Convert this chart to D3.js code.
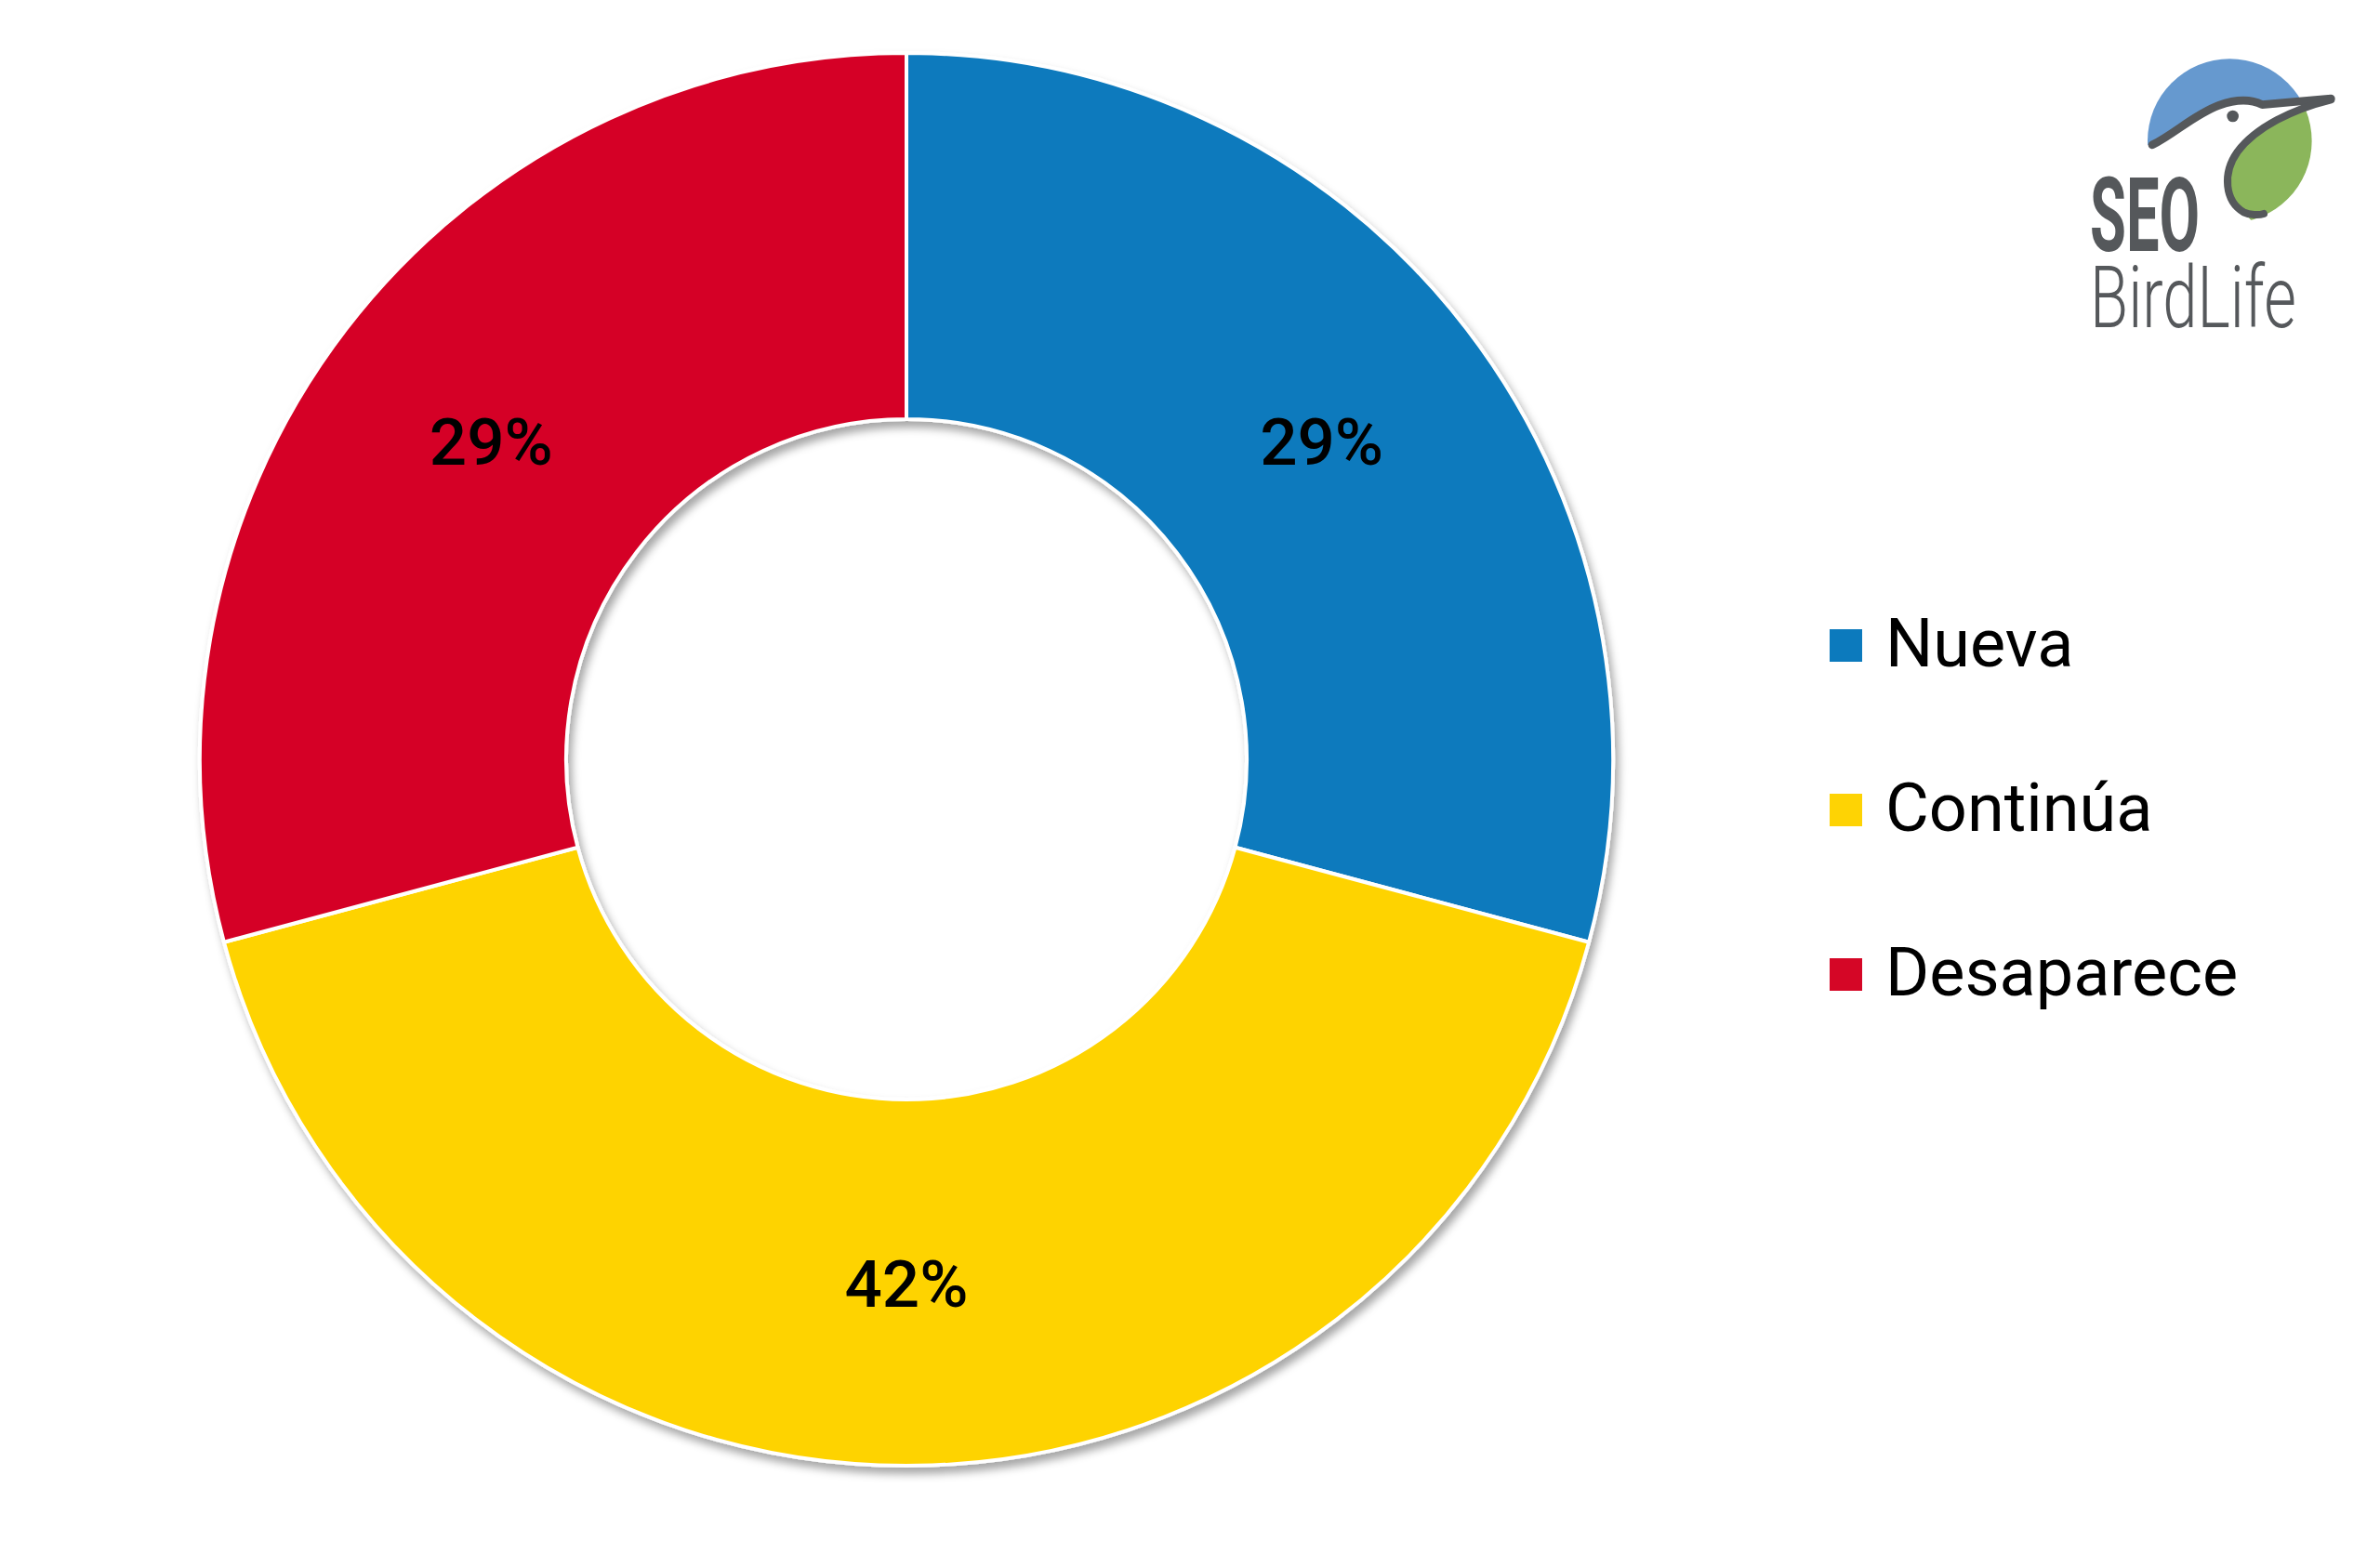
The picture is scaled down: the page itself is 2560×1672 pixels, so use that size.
<!DOCTYPE html>
<html>
<head>
<meta charset="utf-8">
<style>
  body { margin: 0; background: #fff; }
  svg { display: block; }
  .label { font-family: Roboto, "Liberation Sans", sans-serif; font-size: 71px; font-weight: 500; fill: #000; }
  .legend text { font-family: Roboto, "Liberation Sans", sans-serif; font-size: 72px; fill: #000; }
</style>
</head>
<body>
<div id="chart"></div>
<script src="https://d3js.org/d3.v7.min.js"></script>
<script>
  // datos
  const categories = ["Nueva", "Continúa", "Desaparece"];
  const values = [7, 10, 7];
  const colors = ["#0c7abd", "#fed304", "#d50626"];

  const width = 2560, height = 1672;
  const cx = 975, cy = 817,
        outerR = 760, innerR = 366;

  const svg = d3.select("#chart")
    .append("svg")
    .attr("width", width)
    .attr("height", height);

  // sombra
  const defs = svg.append("defs");
  defs.append("filter")
    .attr("id", "shadow")
    .attr("x", "-10%").attr("y", "-10%")
    .attr("width", "120%").attr("height", "120%")
    .append("feDropShadow")
    .attr("dx", 4).attr("dy", 7)
    .attr("stdDeviation", 5)
    .attr("flood-color", "#000")
    .attr("flood-opacity", 0.35);

  const data = categories.map((c, i) => ({ name: c, value: values[i], color: colors[i] }));
  const total = d3.sum(values);

  const pie = d3.pie()
    .sort(null)
    .value(d => d.value);

  const arc = d3.arc()
    .innerRadius(innerR)
    .outerRadius(outerR);

  const labelArc = d3.arc()
    .innerRadius((innerR + outerR) / 2)
    .outerRadius((innerR + outerR) / 2);

  const ring = svg.append("g")
    .attr("transform", `translate(${cx}, ${cy})`);

  ring.append("g")
    .attr("filter", "url(#shadow)")
    .selectAll("path")
    .data(pie(data))
    .join("path")
    .attr("d", arc)
    .attr("fill", d => d.data.color)
    .attr("stroke", "#fff")
    .attr("stroke-width", 4)
    .attr("stroke-linejoin", "round");

  ring.selectAll("text.label")
    .data(pie(data))
    .join("text")
    .attr("class", "label")
    .attr("transform", d => `translate(${labelArc.centroid(d)})`)
    .attr("text-anchor", "middle")
    .attr("dy", "0.36em")
    .text(d => Math.round(d.data.value / total * 100) + "%");

  // leyenda
  const legend = svg.append("g")
    .attr("class", "legend")
    .attr("transform", "translate(1968, 677)");

  const item = legend.selectAll("g")
    .data(data)
    .join("g")
    .attr("transform", (d, i) => `translate(0, ${i * 177})`);

  item.append("rect")
    .attr("width", 35)
    .attr("height", 35)
    .attr("fill", d => d.color);

  item.append("text")
    .attr("x", 60)
    .attr("y", 40)
    .text(d => d.name);

  // logo SEO BirdLife
  const logo = svg.append("g");
  const mark = logo.append("g")
    .attr("transform", "translate(2200, 30) scale(0.3333)");

  defs.append("clipPath")
    .attr("id", "logoCircle")
    .append("circle")
    .attr("cx", 595).attr("cy", 365).attr("r", 265);

  const inside = mark.append("g").attr("clip-path", "url(#logoCircle)");
  inside.append("path")
    .attr("d", "M300,378 L345,378 C420,340 480,280 560,250 C610,232 660,228 700,248 L920,228 L920,50 L300,50 Z")
    .attr("fill", "#6699cf");
  inside.append("path")
    .attr("d", "M925,235 C800,265 680,320 620,400 C570,470 580,560 640,595 L700,660 L900,660 L900,235 Z")
    .attr("fill", "#8bb65b");

  mark.append("path")
    .attr("d", "M345,378 C420,340 480,280 560,250 C610,232 660,228 700,248 L922,228")
    .attr("fill", "none")
    .attr("stroke", "#55585b")
    .attr("stroke-width", 26)
    .attr("stroke-linecap", "round")
    .attr("stroke-linejoin", "round");
  mark.append("path")
    .attr("d", "M922,232 C800,262 680,320 620,400 C570,470 580,560 640,595 C660,605 690,605 705,600")
    .attr("fill", "none")
    .attr("stroke", "#55585b")
    .attr("stroke-width", 24)
    .attr("stroke-linecap", "round");
  mark.append("circle")
    .attr("cx", 605).attr("cy", 285).attr("r", 19)
    .attr("fill", "#55585b");

  logo.append("text")
    .attr("x", 2248).attr("y", 270)
    .attr("textLength", 118)
    .attr("lengthAdjust", "spacingAndGlyphs")
    .style("font-family", "Roboto, sans-serif")
    .style("font-weight", 700)
    .style("font-size", "112px")
    .style("fill", "#55585b")
    .text("SEO");

  logo.append("text")
    .attr("x", 2248).attr("y", 352)
    .attr("textLength", 222)
    .attr("lengthAdjust", "spacingAndGlyphs")
    .style("font-family", "Roboto, sans-serif")
    .style("font-weight", 300)
    .style("font-size", "92px")
    .style("fill", "#55585b")
    .text("BirdLife");
</script>
</body>
</html>
